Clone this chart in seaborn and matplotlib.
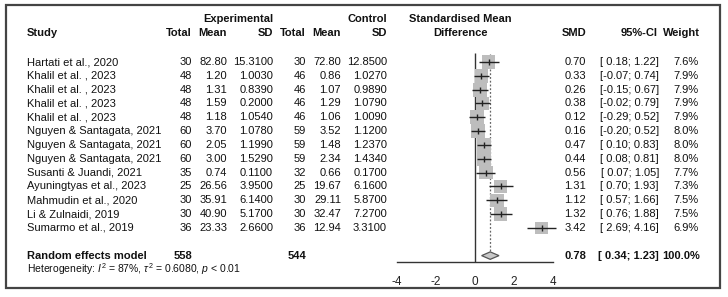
import matplotlib
matplotlib.use("Agg")
import matplotlib.pyplot as plt
import matplotlib.transforms as mtransforms
from matplotlib.patches import Polygon, Rectangle
import seaborn as sns
import pandas as pd

# datos del forest plot
study = ["Hartati et al., 2020", "Khalil et al. , 2023", "Khalil et al. , 2023",
         "Khalil et al. , 2023", "Khalil et al. , 2023", "Nguyen & Santagata, 2021",
         "Nguyen & Santagata, 2021", "Nguyen & Santagata, 2021", "Susanti & Juandi, 2021",
         "Ayuningtyas et al., 2023", "Mahmudin et al., 2020", "Li & Zulnaidi, 2019",
         "Sumarmo et al., 2019"]
exp_n = [30, 48, 48, 48, 48, 60, 60, 60, 35, 25, 30, 30, 36]
exp_mean = [82.80, 1.20, 1.31, 1.59, 1.18, 3.70, 2.05, 3.00, 0.74, 26.56, 35.91, 40.90, 23.33]
exp_sd = [15.3100, 1.0030, 0.8390, 0.2000, 1.0540, 1.0780, 1.1990, 1.5290, 0.1100,
          3.9500, 6.1400, 5.1700, 2.6600]
ctl_n = [30, 46, 46, 46, 46, 59, 59, 59, 32, 25, 30, 30, 36]
ctl_mean = [72.80, 0.86, 1.07, 1.29, 1.06, 3.52, 1.48, 2.34, 0.66, 19.67, 29.11, 32.47, 12.94]
ctl_sd = [12.8500, 1.0270, 0.9890, 1.0790, 1.0090, 1.1200, 1.2370, 1.4340, 0.1700,
          6.1600, 5.8700, 7.2700, 3.3100]
smd = [0.70, 0.33, 0.26, 0.38, 0.12, 0.16, 0.47, 0.44, 0.56, 1.31, 1.12, 1.32, 3.42]
ci_low = [0.18, -0.07, -0.15, -0.02, -0.29, -0.20, 0.10, 0.08, 0.07, 0.70, 0.57, 0.76, 2.69]
ci_high = [1.22, 0.74, 0.67, 0.79, 0.52, 0.52, 0.83, 0.81, 1.05, 1.93, 1.66, 1.88, 4.16]
weight = [7.6, 7.9, 7.9, 7.9, 7.9, 8.0, 8.0, 8.0, 7.7, 7.3, 7.5, 7.5, 6.9]

pooled_smd = 0.78
pooled_low = 0.34
pooled_high = 1.23
total_exp = 558
total_ctl = 544
het_text = r"Heterogeneity: $I^2$ = 87%, $\tau^2$ = 0.6080, $p$ < 0.01"
xticks = [-4, -2, 0, 2, 4]

df = pd.DataFrame({"study": study, "smd": smd, "low": ci_low, "high": ci_high,
                   "weight": weight})
df["row"] = range(len(df))

sns.set_style("white")
plt.rcParams["font.family"] = ["Liberation Sans", "DejaVu Sans"]
plt.rcParams["mathtext.fontset"] = "custom"
plt.rcParams["mathtext.rm"] = "Liberation Sans"
plt.rcParams["mathtext.it"] = "Liberation Sans:italic"
plt.rcParams["mathtext.bf"] = "Liberation Sans:bold"

W, H = 728, 297
fig = plt.figure(figsize=(W / 100, H / 100), dpi=100)

# ejes del panel grafico: -4 -> px 397, 4 -> px 553
row_px0, row_step = 62, 13.83
ax = fig.add_axes([397 / W, 0, (553 - 397) / W, 1])
ax.set_xlim(-4, 4)
ax.set_ylim((H - row_px0) / row_step, -row_px0 / row_step)
ax.patch.set_alpha(0)

axis_row = 14.46
re_row = 14.0
het_row = 14.95

# lineas de referencia
ax.vlines(0, -0.65, axis_row, color="#333333", lw=1)
ax.vlines(pooled_smd, -0.6, re_row - 0.28, color="#666666", lw=0.9, linestyles=(0, (1.5, 1.5)))

# cuadrados ponderados (area proporcional al peso)
k = 12.5
sns.scatterplot(data=df, x="smd", y="row", size="weight",
                sizes={w: w * k for w in df["weight"].unique()},
                marker="s", color="#bdbdbd", edgecolor="none", legend=False,
                ax=ax, zorder=2, clip_on=False)
ax.hlines(df["row"], df["low"], df["high"], color="#222222", lw=1, zorder=3, clip_on=False)
ax.plot(df["smd"], df["row"], ls="none", marker="|", ms=4, color="#222222", mew=1, zorder=4)

# diamante del modelo de efectos aleatorios
dh = 0.27
diamond = Polygon([(pooled_low, re_row), (pooled_smd, re_row - dh),
                   (pooled_high, re_row), (pooled_smd, re_row + dh)],
                  closed=True, facecolor="#c8c8c8", edgecolor="#555555", lw=0.9, zorder=3)
ax.add_patch(diamond)

# eje x
for s in ["top", "left", "right"]:
    ax.spines[s].set_visible(False)
ax.spines["bottom"].set_position(("data", axis_row))
ax.spines["bottom"].set_bounds(-4, 4)
ax.spines["bottom"].set_color("#333333")
ax.spines["bottom"].set_linewidth(1)
ax.set_xticks(xticks)
ax.set_xticklabels([str(t) for t in xticks])
ax.set_yticks([])
ax.tick_params(axis="x", direction="out", length=5, width=1, color="#333333",
               labelsize=8.5, pad=5, labelcolor="#222222")
ax.set_xlabel("")
ax.set_ylabel("")

# textos de la tabla
tr = mtransforms.blended_transform_factory(fig.transFigure, ax.transData)
fs = 8
tc = "#111111"


def put(px, row, txt, ha="right", bold=False, size=fs):
    ax.text(px / W, row, txt, transform=tr, ha=ha, va="center", fontsize=size,
            fontweight="bold" if bold else "normal", color=tc, clip_on=False)


# encabezados
put(273, -3.1, "Experimental", bold=True)
put(387, -3.1, "Control", bold=True)
put(460, -3.1, "Standardised Mean", ha="center", bold=True)
put(27, -2.1, "Study", ha="left", bold=True)
put(192, -2.1, "Total", bold=True)
put(227, -2.1, "Mean", bold=True)
put(273, -2.1, "SD", bold=True)
put(306, -2.1, "Total", bold=True)
put(341, -2.1, "Mean", bold=True)
put(387, -2.1, "SD", bold=True)
put(460, -2.1, "Difference", ha="center", bold=True)
put(586, -2.1, "SMD", bold=True)
put(658, -2.1, "95%-CI", bold=True)
put(700, -2.1, "Weight", bold=True)


def fmt_ci(lo, hi):
    lo_s = f"{lo:.2f}" if lo < 0 else f" {lo:.2f}"
    return f"[{lo_s}; {hi:.2f}]"


for i in range(len(study)):
    put(27, i, study[i], ha="left")
    put(192, i, f"{exp_n[i]}")
    put(227, i, f"{exp_mean[i]:.2f}")
    put(273, i, f"{exp_sd[i]:.4f}")
    put(306, i, f"{ctl_n[i]}")
    put(341, i, f"{ctl_mean[i]:.2f}")
    put(387, i, f"{ctl_sd[i]:.4f}")
    put(586, i, f"{smd[i]:.2f}")
    put(659, i, fmt_ci(ci_low[i], ci_high[i]))
    put(699, i, f"{weight[i]:.1f}%")

put(27, re_row, "Random effects model", ha="left", bold=True)
put(192, re_row, f"{total_exp}", bold=True)
put(306, re_row, f"{total_ctl}", bold=True)
put(586, re_row, f"{pooled_smd:.2f}", bold=True)
put(659, re_row, fmt_ci(pooled_low, pooled_high), bold=True)
put(700, re_row, "100.0%", bold=True)
put(27, het_row, het_text, ha="left", size=7.5)

# marco exterior
fig.patches.append(Rectangle((6 / W, 9 / H), (720 - 6) / W, (292 - 9) / H,
                             transform=fig.transFigure, fill=False,
                             edgecolor="#444444", lw=1.6))

fig.savefig("out.png", dpi=100)
